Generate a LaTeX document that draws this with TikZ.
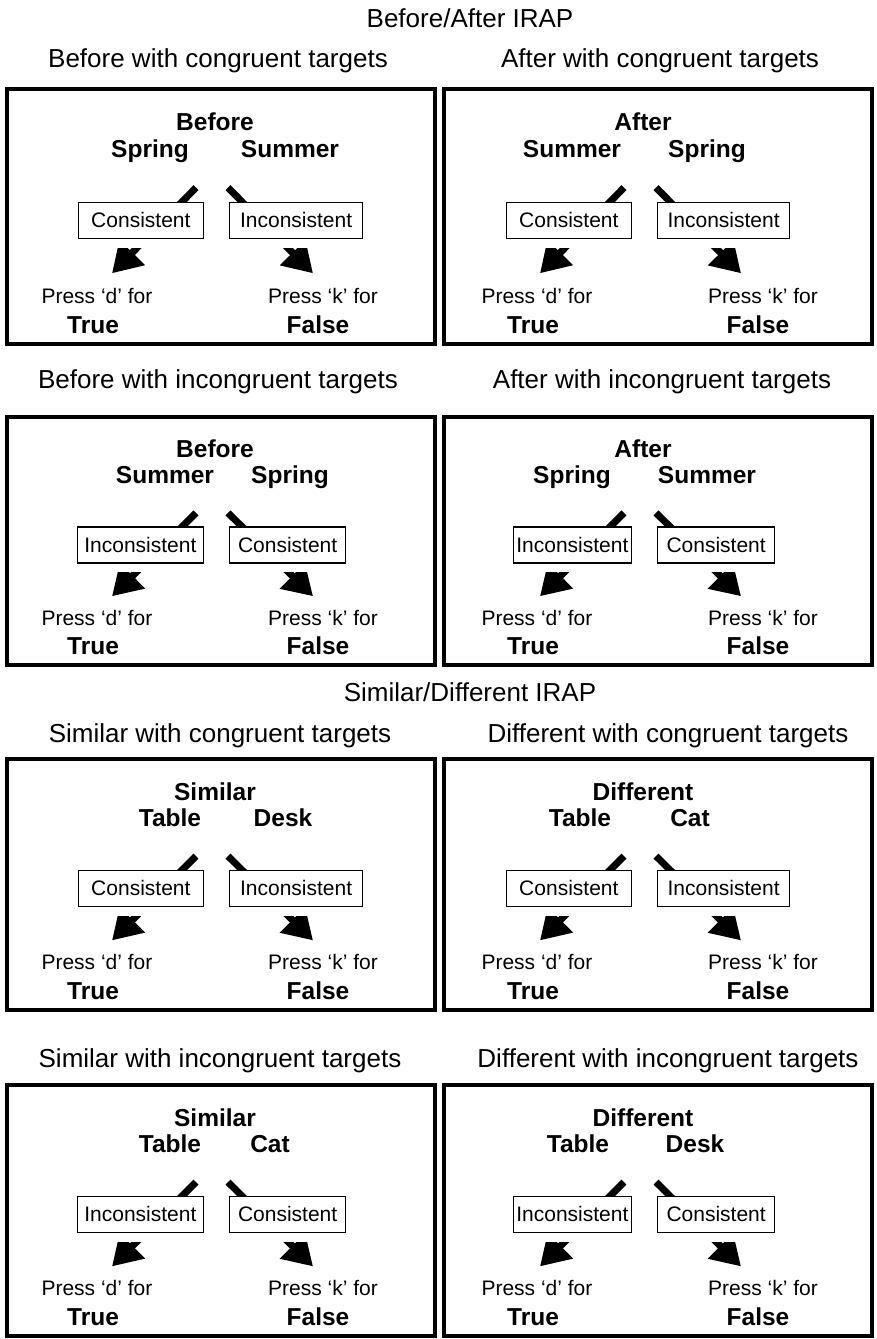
\documentclass[tikz,border=0pt]{standalone}
\usepackage{fontspec}
\setmainfont{Liberation Sans}
\usetikzlibrary{arrows.meta}
\tikzset{
  frame/.style={draw, line width=4pt},
  ttl/.style={anchor=base, font=\fontsize{26}{31}\selectfont, inner sep=0pt},
  bw/.style={anchor=base, font=\fontsize{24.5}{29}\selectfont\bfseries, inner sep=0pt},
  pw/.style={anchor=base, font=\fontsize{21}{25}\selectfont, inner sep=0pt},
  optbox/.style={draw, line width=1.3pt, fill=white, minimum height=36pt, inner sep=0pt,
    text height=15pt, text depth=0pt, font=\fontsize{21}{25}\selectfont},
  arr/.style={line width=7pt, -{Triangle[width=34pt,length=29pt]}},
}
\begin{document}
\begin{tikzpicture}[x=1pt,y=-1pt]
\useasboundingbox (0,0) rectangle (876,1339);
\fill[white] (0,0) rectangle (876,1339);
% titles and headings
\node[ttl] (t1) at (470,27) {Before/After IRAP};
\node[ttl] (t2) at (470,701) {Similar/Different IRAP};
\node[ttl] (h1) at (218,67) {Before with congruent targets};
\node[ttl] (h2) at (660,67) {After with congruent targets};
\node[ttl] (h3) at (218,388) {Before with incongruent targets};
\node[ttl] (h4) at (662,388) {After with incongruent targets};
\node[ttl] (h5) at (220,742) {Similar with congruent targets};
\node[ttl] (h6) at (668,742) {Different with congruent targets};
\node[ttl] (h7) at (220,1067) {Similar with incongruent targets};
\node[ttl] (h8) at (668,1067) {Different with incongruent targets};
% panels
\foreach \vn/\vco/\vpo/\vfx/\vT/\vB/\vtw/\vtx/\vlw/\vlx/\vrw/\vrx/\vlb/\vlbw/\vrb/\vrbw in {
  a/0/0/7/89/344/Before/215/Spring/150/Summer/290/Consistent/125/Inconsistent/133,
  b/428/440/444/89/344/After/643/Summer/572/Spring/707/Consistent/125/Inconsistent/132,
  c/0/0/7/417/665/Before/215/Summer/165/Spring/290/Inconsistent/126/Consistent/116,
  d/428/440/444/417/665/After/643/Spring/572/Summer/707/Inconsistent/118/Consistent/117,
  e/0/0/7/759/1010/Similar/215/Table/170/Desk/283/Consistent/125/Inconsistent/133,
  f/428/440/444/759/1010/Different/643/Table/580/Cat/690/Consistent/125/Inconsistent/132,
  g/0/0/7/1085/1336/Similar/215/Table/170/Cat/270/Inconsistent/126/Consistent/116,
  h/428/440/444/1085/1336/Different/643/Table/578/Desk/695/Inconsistent/118/Consistent/117}
{
  \pgfmathsetmacro\vs{(\vB-\vT)/256}
  \draw[frame] (\vfx,\vT) rectangle (\vfx+428,\vB);
  \node[bw] (\vn-top) at (\vtx,\vT+42*\vs) {\vtw};
  \node[bw] (\vn-lw) at (\vlx,\vT+69*\vs) {\vlw};
  \node[bw] (\vn-rw) at (\vrx,\vT+69*\vs) {\vrw};
  \coordinate (\vn-s1) at (196+\vco,\vT+99*\vs);
  \coordinate (\vn-t1) at (112+\vco,\vT+185*\vs);
  \coordinate (\vn-s2) at (228+\vco,\vT+99*\vs);
  \coordinate (\vn-t2) at (313+\vco,\vT+185*\vs);
  \draw[arr] (\vn-s1) -- (\vn-t1);
  \draw[arr] (\vn-s2) -- (\vn-t2);
  \fill[white] (204+\vco-\vlbw,\vT+114*\vs) rectangle (204+\vco,\vT+160*\vs);
  \fill[white] (229+\vco,\vT+114*\vs) rectangle (229+\vco+\vrbw,\vT+160*\vs);
  \node[optbox, anchor=east, minimum width={\vlbw*1pt}] (\vn-lb) at (204+\vco,\vT+132*\vs) {\vlb};
  \node[optbox, anchor=west, minimum width={\vrbw*1pt}] (\vn-rb) at (229+\vco,\vT+132*\vs) {\vrb};
  \node[pw] (\vn-pd) at (97+\vpo,\vT+215*\vs) {Press ‘d’ for};
  \node[bw] (\vn-tr) at (93+\vpo,\vT+245*\vs) {True};
  \node[pw] (\vn-pk) at (323+\vpo,\vT+215*\vs) {Press ‘k’ for};
  \node[bw] (\vn-fa) at (318+\vpo,\vT+245*\vs) {False};
}
\end{tikzpicture}
\end{document}
